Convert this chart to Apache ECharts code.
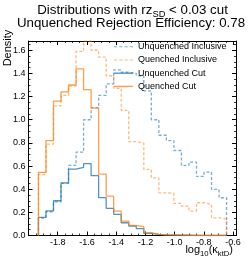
<!DOCTYPE html>
<html><head><meta charset="utf-8">
<script src="https://cdn.jsdelivr.net/npm/echarts@6/dist/echarts.min.js"></script>
<style>html,body{margin:0;padding:0;background:#fff}#c{width:249px;height:261px}</style>
</head><body><div id="c"></div>
<script>
// Histogram binning (log10 kappa_ktD)
const binStart = -1.932;
const binWidth = 0.0515;
// Density values per bin, 25 bins
const unquenchedInclusive = [0.15,0.205,0.29,0.45,0.605,0.72,1.0,1.105,1.21,1.31,1.43,1.41,1.40,1.38,1.25,1.0,0.866,0.82,0.734,0.605,0.634,0.51,0.547,0.398,0.326];
const quenchedInclusive   = [0.527,0.79,1.12,1.21,1.29,1.59,1.68,1.60,1.54,1.38,1.27,1.08,0.81,0.80,0.571,0.498,0.369,0.364,0.277,0.254,0.211,0.283,0.269,0.153,0.142];
const unquenchedCut       = [0.157,0.212,0.30,0.455,0.573,0.588,0.62,0.517,0.327,0.235,0.183,0.11,0.082,0.059,0.019,0.01,0.006,0.004,0.003,0.002,0,0,0,0,0];
const quenchedCut         = [0.545,0.82,1.16,1.24,1.30,1.44,1.26,1.10,0.53,0.34,0.21,0.125,0.088,0.076,0.024,0.01,0.005,0.005,0.004,0.003,0,0,0,0,0];
const seriesNames = ['Unquenched Inclusive','Quenched Inclusive','Unquenched Cut','Quenched Cut'];
const xRange = [-2.0, -0.58];
const yRange = [0, 1.68];

const FONT = "'Liberation Sans', Arial, Helvetica, sans-serif";
const cv = document.createElement('canvas').getContext('2d');
function tw(t, fs){ cv.font = fs + 'px ' + FONT; return cv.measureText(t).width; }

function stepPoints(vals){
  const pts = [[binStart, 0]];
  vals.forEach((v, i) => {
    const a = binStart + i * binWidth;
    pts.push([a, v], [a + binWidth, v]);
  });
  pts.push([binStart + vals.length * binWidth, 0]);
  return pts;
}

function piecesLine(pieces, anchorX, baselineY, align){
  const widths = pieces.map(p => tw(p[0], p[1]));
  const total = widths.reduce((a,b)=>a+b,0);
  let x = align === 'center' ? anchorX - total/2 : (align === 'right' ? anchorX - total : anchorX);
  const out = [];
  pieces.forEach((p, i) => {
    const fs = p[1];
    const yb = baselineY + (p[2] || 0);
    out.push({type:'text', silent:true, style:{text:p[0], x:x, y: yb - 0.35*fs, font: fs+'px '+FONT, fill:'#000', textAlign:'left', verticalAlign:'middle'}});
    x += widths[i];
  });
  return out;
}

const graphics = [].concat(
  piecesLine([['Distributions with rz',13.3,0],['SD',9.3,3.5],[' < 0.03 cut',13.3,0]], 132.5, 14.5, 'center'),
  piecesLine([['Unquenched Rejection Efficiency: 0.78',13.3,0]], 131, 28, 'center'),
  piecesLine([['log',11,0],['10',7.7,2.5],['(κ',11,0],['ktD',7.7,2.5],[')',11,0]], 233, 254, 'right'),
  [{type:'text', silent:true, rotation: Math.PI/2, x: 7.5, y: 48, style:{text:'Density', x:0, y:0, font:'11px '+FONT, fill:'#000', textAlign:'center', verticalAlign:'middle'}}]
);

const blue = 'rgba(31,119,180,0.78)';
const blueL = 'rgba(31,119,180,0.6)';
const orange = 'rgba(255,127,14,0.75)';
const orangeL = 'rgba(255,127,14,0.55)';
const DASH_ICON = 'path://M0,0h3v1h-3zM5,0h3v1h-3zM10,0h3v1h-3zM15,0h3v1h-3z';
const SOLID_ICON = 'rect';
const styles = [
  {color: blueL, type:[3,2], icon: DASH_ICON},
  {color: orangeL, type:[3,2], icon: DASH_ICON},
  {color: blue, type:'solid', icon: SOLID_ICON},
  {color: orange, type:'solid', icon: SOLID_ICON}
];
const dataSets = [unquenchedInclusive, quenchedInclusive, unquenchedCut, quenchedCut];

const axisCommon = {
  type:'value',
  axisLine:{show:true, onZero:false, lineStyle:{color:'#000', width:1}},
  axisTick:{show:true, inside:true, length:4, lineStyle:{color:'#000', width:1}},
  minorTick:{show:true, splitNumber:4, length:2, lineStyle:{color:'#000', width:0.8}},
  splitLine:{show:false},
  minorSplitLine:{show:false}
};

const chart = echarts.init(document.getElementById('c'), null, {renderer:'canvas'});
chart.setOption({
  animation:false,
  backgroundColor:'#fff',
  grid:{left:28.5, right:13, top:41, bottom:25.5, containLabel:false},
  xAxis:[
    Object.assign({}, axisCommon, {position:'bottom', min:xRange[0], max:xRange[1], interval:0.2,
      axisLabel:{show:true, showMinLabel:false, showMaxLabel:false, margin:3, fontSize:9, color:'#000', fontFamily:FONT,
        formatter: v => v.toFixed(1)}}),
    Object.assign({}, axisCommon, {position:'top', min:xRange[0], max:xRange[1], interval:0.2, axisLabel:{show:false}})
  ],
  yAxis:[
    Object.assign({}, axisCommon, {position:'left', min:yRange[0], max:yRange[1], interval:0.2,
      axisLabel:{show:true, showMaxLabel:false, margin:3, fontSize:9, color:'#000', fontFamily:FONT,
        formatter: v => v.toFixed(1)}}),
    Object.assign({}, axisCommon, {position:'right', min:yRange[0], max:yRange[1], interval:0.2, axisLabel:{show:false}})
  ],
  legend:{
    orient:'vertical', left:109, top:36.8, itemWidth:19, itemHeight:1.4, itemGap:3.2,
    data: seriesNames.map((n, i) => ({name:n, icon: styles[i].icon, itemStyle:{color: styles[i].color}})),
    textStyle:{fontSize:9, lineHeight:10, color:'#000', fontFamily:FONT},
    inactiveColor:'#ccc'
  },
  series: dataSets.map((d, i) => ({
    name: seriesNames[i], type:'line', xAxisIndex:0, yAxisIndex:0,
    data: stepPoints(d), showSymbol:false, symbol:'none', clip:true,
    lineStyle:{color:styles[i].color, width:1.3, type:styles[i].type},
    itemStyle:{color:styles[i].color},
    z: 2 + i
  })),
  graphic: graphics
});
</script></body></html>
